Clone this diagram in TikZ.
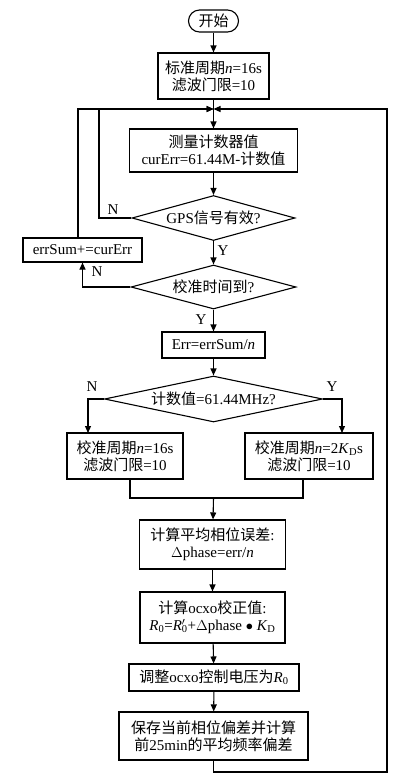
\documentclass[tikz,border=0pt]{standalone}
\usepackage{fontspec}
\setmainfont{Liberation Serif}
\newfontfamily\cjkf{Noto Sans CJK SC}
\newcommand\zhs[1]{{\cjkf #1}}
\usetikzlibrary{shapes.geometric,arrows.meta}
\begin{document}
\begin{tikzpicture}[x=1pt,y=-1pt, line width=1.1pt,
  txt/.style={font=\fontsize{15}{17}\selectfont},
  box/.style={draw,rectangle,inner sep=0pt,align=center,txt},
  dia/.style={draw,diamond,inner sep=0pt,align=center,txt},
  arr/.style={-{Triangle[length=7pt,width=6pt]}},
  lab/.style={inner sep=0pt,txt}]
\useasboundingbox[fill=white] (0,0) rectangle (400,780);
\node[box,rounded corners=11pt,minimum width=50pt,minimum height=22pt] (st) at (213.5,21) {\zhs{开始}};
\node[box,minimum width=111pt,minimum height=46pt] (b1) at (213.5,76) {\zhs{标准周期}\textit{n}=16s\\\zhs{滤波门限}=10};
\node[box,minimum width=168pt,minimum height=43pt] (b2) at (213.5,150.5) {\zhs{测量计数器值}\\curErr=61.44M-\zhs{计数值}};
\node[dia,aspect=3.5,minimum width=163pt,minimum height=45pt] (d1) at (213.5,218) {GPS\zhs{信号有效}?};
\node[box,minimum width=119pt,minimum height=24pt] (es) at (82.5,250) {errSum+=curErr};
\node[dia,aspect=3.5,minimum width=165pt,minimum height=44pt] (d2) at (213.5,287) {\zhs{校准时间到}?};
\node[box,minimum width=103pt,minimum height=26pt] (b3) at (213.5,345) {Err=errSum/\textit{n}};
\node[dia,aspect=4.7,minimum width=218pt,minimum height=46pt] (d3) at (213.5,399) {\zhs{计数值}=61.44MHz?};
\node[box,minimum width=116pt,minimum height=46pt] (bl) at (125,456) {\zhs{校准周期}\textit{n}=16s\\\zhs{滤波门限}=10};
\node[box,minimum width=128pt,minimum height=46pt] (br) at (309,456) {\zhs{校准周期}\textit{n}=2\textit{K}\textsubscript{D}s\\\zhs{滤波门限}=10};
\node[box,minimum width=146pt,minimum height=49pt] (b4) at (212.5,544.5) {\zhs{计算平均相位误差}:\\$\Delta$phase=err/\textit{n}};
\node[box,minimum width=145pt,minimum height=51pt] (b5) at (212.5,617.5) {\zhs{计算}ocxo\zhs{校正值}:\\\textit{R}\textsubscript{0}=\textit{R}\rlap{\textsuperscript{$\prime$}}\textsubscript{0}+$\Delta$phase $\bullet$ \textit{K}\textsubscript{D}};
\node[box,minimum width=170pt,minimum height=27pt] (b6) at (214,677.5) {\zhs{调整}ocxo\zhs{控制电压为}\textit{R}\textsubscript{0}};
\node[box,minimum width=189pt,minimum height=48pt] (b7) at (213.5,736) {\zhs{保存当前相位偏差并计算}\\\zhs{前}25min\zhs{的平均频率偏差}};
\coordinate (m) at (213.5,109);
\coordinate (iL) at (99,109);
\coordinate (oL) at (78,109);
\coordinate (rR) at (387,109);
\coordinate (bot) at (213.5,772);
\coordinate (lx) at (88,433);
\coordinate (rx) at (342,433);
\coordinate (ml) at (130,498);
\coordinate (mr) at (303,498);
\coordinate (mc) at (213.5,498);
\draw[arr] (st) -- (b1);
\draw (b1) -- (m);
\draw[arr] (m) -- (b2);
\draw[arr] (b2) -- (d1);
\draw[arr] (d1.west) -| (iL) -- (m);
\draw[arr] (es.north -| oL) -- (oL) -- (m);
\draw[arr] (b7) -- (bot) -| (rR) -- (m);
\draw[arr] (d1) -- (d2);
\draw[arr] (d2.west) -| (es.south);
\draw[arr] (d2) -- (b3);
\draw[arr] (b3) -- (d3);
\draw[arr] (d3.west) -| (lx);
\draw[arr] (d3.east) -| (rx);
\draw (bl.south -| ml) -- (ml) -- (mr) -- (br.south -| mr);
\draw[arr] (mc) -- (b4);
\draw[arr] (b4) -- (b5);
\draw[arr] (b5) -- (b6);
\draw[arr] (b6) -- (b7);
\node[lab] (n1) at (113,210) {N};
\node[lab] (y1) at (223,251) {Y};
\node[lab] (n2) at (97,272) {N};
\node[lab] (y2) at (201,320) {Y};
\node[lab] (n3) at (92,387) {N};
\node[lab] (y3) at (332,387) {Y};
\end{tikzpicture}
\end{document}
